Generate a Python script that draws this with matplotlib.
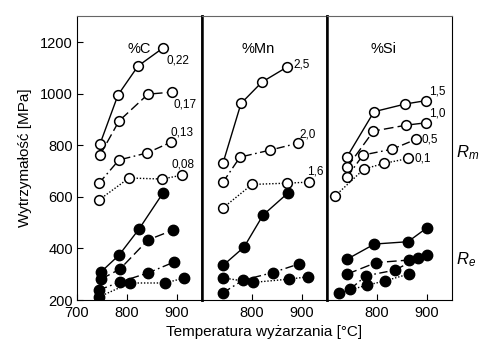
import numpy as np
import matplotlib.pyplot as plt

plt.rcParams['font.family'] = ['Liberation Sans', 'DejaVu Sans']
plt.rcParams['mathtext.fontset'] = 'custom'
plt.rcParams['mathtext.it'] = 'Liberation Sans:italic'
plt.rcParams['mathtext.rm'] = 'Liberation Sans'

# ---------------- data ----------------
PANELS = ["%C", "%Mn", "%Si"]

# %C  - Rm (open) and Re (filled)
C_rm_x = [[746, 782, 822, 872], [746, 784, 842, 890], [744, 784, 840, 888], [744, 804, 870, 910]]
C_rm_y = [[805, 995, 1107, 1177], [762, 894, 998, 1006], [653, 743, 770, 812], [588, 673, 669, 684]]
C_re_x = [[748, 784, 824, 872], [748, 786, 842, 892], [744, 786, 842, 894], [744, 806, 876, 914]]
C_re_y = [[309, 374, 475, 615], [281, 320, 433, 471], [239, 270, 305, 347], [212, 266, 266, 285]]
C_labels = ["0,22", "0,17", "0,13", "0,08"]

# %Mn
Mn_rm_x = [[742, 778, 820, 870], [742, 776, 836, 892], [742, 800, 870, 914]]
Mn_rm_y = [[731, 962, 1045, 1103], [657, 754, 781, 808], [557, 648, 653, 657]]
Mn_re_x = [[742, 784, 822, 872], [742, 782, 841, 894], [742, 801, 874, 912]]
Mn_re_y = [[334, 405, 529, 615], [228, 277, 306, 340], [286, 268, 281, 290]]
Mn_labels = ["2,5", "2,0", "1,6"]

# %Si
Si_rm_x = [[740, 794, 857, 898], [740, 793, 859, 898], [740, 772, 831, 878], [716, 774, 815, 863]]
Si_rm_y = [[755, 930, 960, 973], [714, 855, 878, 887], [676, 762, 785, 823], [603, 708, 730, 749]]
Si_re_x = [[740, 795, 862, 900], [741, 798, 864, 901], [747, 778, 836, 883], [725, 781, 816, 864]]
Si_re_y = [[358, 417, 426, 480], [301, 345, 355, 374], [243, 294, 316, 364], [228, 258, 274, 301]]
Si_labels = ["1,5", "1,0", "0,5", "0,1"]

STYLES = ['-', (0, (7, 3)), (0, (6, 2.5, 1.2, 2.5)), (0, (1, 1.3))]

fig = plt.figure(figsize=(4.79, 3.46), dpi=100)
left, right, bottom, top = 0.1608, 0.9436, 0.1329, 0.953
w = (right - left) / 3
axes = [fig.add_axes([left + i * w, bottom, w, top - bottom]) for i in range(3)]


def draw(ax, rm_x, rm_y, re_x, re_y, styles):
    for xs, ys, ls in zip(rm_x, rm_y, styles):
        ax.plot(xs, ys, color='black', lw=1.0, ls=ls, marker='o', ms=7,
                mfc='white', mec='black', mew=1.1, zorder=3)
    for xs, ys, ls in zip(re_x, re_y, styles):
        ax.plot(xs, ys, color='black', lw=1.0, ls=ls, marker='o', ms=7.5,
                mfc='black', mec='black', zorder=3)


draw(axes[0], C_rm_x, C_rm_y, C_re_x, C_re_y, STYLES)
draw(axes[1], Mn_rm_x, Mn_rm_y, Mn_re_x, Mn_re_y, [STYLES[0], STYLES[2], STYLES[3]])
draw(axes[2], Si_rm_x, Si_rm_y, Si_re_x, Si_re_y, STYLES)

# curve labels
fs = 8.5
ax = axes[0]
ax.text(C_rm_x[0][-1] + 6, C_rm_y[0][-1] - 25, C_labels[0], fontsize=fs, va='top')
ax.text(C_rm_x[1][-1] + 2, C_rm_y[1][-1] - 25, C_labels[1], fontsize=fs, va='top')
ax.text(C_rm_x[2][-1] - 2, C_rm_y[2][-1] + 15, C_labels[2], fontsize=fs, va='bottom')
ax.text(C_rm_x[3][-1] - 22, C_rm_y[3][-1] + 20, C_labels[3], fontsize=fs, va='bottom')
ax = axes[1]
ax.text(Mn_rm_x[0][-1] + 12, Mn_rm_y[0][-1] + 10, Mn_labels[0], fontsize=fs, va='center')
ax.text(Mn_rm_x[1][-1] + 2, Mn_rm_y[1][-1] + 12, Mn_labels[1], fontsize=fs, va='bottom')
ax.text(Mn_rm_x[2][-1] - 4, Mn_rm_y[2][-1] + 18, Mn_labels[2], fontsize=fs, va='bottom')
ax = axes[2]
ax.text(Si_rm_x[0][-1] + 6, Si_rm_y[0][-1] + 12, Si_labels[0], fontsize=fs, va='bottom')
ax.text(Si_rm_x[1][-1] + 6, Si_rm_y[1][-1] + 12, Si_labels[1], fontsize=fs, va='bottom')
ax.text(Si_rm_x[2][-1] + 12, Si_rm_y[2][-1], Si_labels[2], fontsize=fs, va='center')
ax.text(Si_rm_x[3][-1] + 12, Si_rm_y[3][-1], Si_labels[3], fontsize=fs, va='center')

for i, ax in enumerate(axes):
    ax.set_xlim(700, 950)
    ax.set_ylim(200, 1300)
    ax.text(0.5 if i == 0 else 0.45, 0.885, PANELS[i], transform=ax.transAxes,
            ha='center', va='center', fontsize=10.5)
    ax.tick_params(direction='in', length=4, width=0.8, labelsize=10.5, pad=3)
    ax.tick_params(axis='x', pad=4)
    for s in ax.spines.values():
        s.set_linewidth(0.8)
    ax.spines['top'].set_color('#666666')
    if i == 0:
        ax.set_xticks([700, 800, 900])
        ax.set_yticks([200, 400, 600, 800, 1000, 1200])
    else:
        ax.set_xticks([800, 900])
        ax.set_yticks([])
        ax.spines['left'].set_linewidth(1.8)
    if i < 2:
        ax.spines['right'].set_linewidth(1.8)

axes[0].set_ylabel('Wytrzymałość [MPa]', fontsize=11, labelpad=6)
fig.text((left + right) / 2, 0.04, 'Temperatura wyżarzania [°C]', ha='center',
         va='center', fontsize=11)
fig.text(0.953, 0.56, r'$R_m$', fontsize=12, va='center')
fig.text(0.953, 0.25, r'$R_e$', fontsize=12, va='center')

fig.savefig('out.png', dpi=100)
